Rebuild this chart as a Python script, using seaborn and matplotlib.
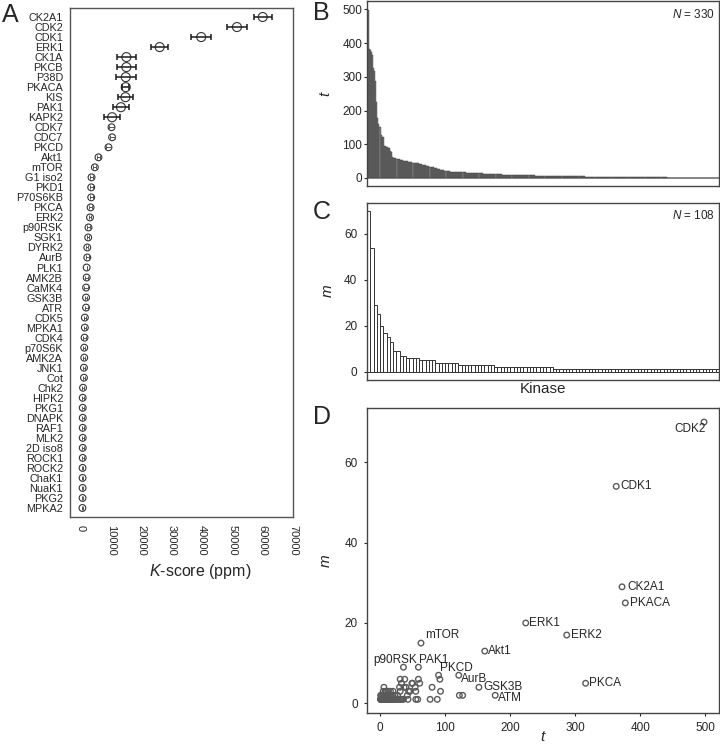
import matplotlib
matplotlib.use("Agg")
import matplotlib.pyplot as plt
import numpy as np
import seaborn as sns

sns.set_style("white")
plt.rcParams["font.family"] = ["Liberation Sans", "DejaVu Sans"]
plt.rcParams["mathtext.fontset"] = "custom"
plt.rcParams["mathtext.it"] = "Liberation Sans:italic"
plt.rcParams["mathtext.rm"] = "Liberation Sans"

# ---- panel A: K-score per kinase ----
kinases = ["CK2A1", "CDK2", "CDK1", "ERK1", "CK1A", "PKCB", "P38D", "PKACA", "KIS",
           "PAK1", "KAPK2", "CDK7", "CDC7", "PKCD", "Akt1", "mTOR", "G1 iso2", "PKD1",
           "P70S6KB", "PKCA", "ERK2", "p90RSK", "SGK1", "DYRK2", "AurB", "PLK1",
           "AMK2B", "CaMK4", "GSK3B", "ATR", "CDK5", "MPKA1", "CDK4", "p70S6K",
           "AMK2A", "JNK1", "Cot", "Chk2", "HIPK2", "PKG1", "DNAPK", "RAF1", "MLK2",
           "2D iso8", "ROCK1", "ROCK2", "ChaK1", "NuaK1", "PKG2", "MPKA2"]
kscore = [60000, 51500, 39700, 26000, 15000, 15000, 14800, 14800, 14700, 13200,
          10300, 10100, 10300, 9100, 5800, 4600, 3500, 3400, 3400, 3200,
          3000, 2500, 2400, 2100, 2100, 1900, 1900, 1700, 1700, 1700,
          1300, 1300, 1200, 1100, 1100, 1000, 1000, 700, 600, 600,
          600, 600, 600, 600, 600, 550, 550, 550, 550, 500]
kscore_err = [3000, 3300, 3300, 2900, 3200, 3200, 3300, 1100, 2500, 2600,
              2600, 800, 800, 700, 500, 500, 500, 500, 500, 500,
              400, 400, 400, 400, 500, 0, 600, 600, 400, 500,
              350, 350, 350, 350, 350, 350, 350, 300, 300, 300,
              300, 300, 300, 300, 300, 300, 300, 300, 300, 300]

# ---- panel B: t per kinase, sorted ----
t_sorted = [
    498, 383, 379, 373, 365, 325, 317, 288, 224, 177, 160, 150, 127, 122, 120,
    96, 94, 92, 91, 89, 88, 80, 76, 63, 60, 59, 58, 57, 56, 55, 54,
    53, 52, 51, 50, 50, 49, 49, 48, 47, 46, 46, 45, 45, 44, 44, 43, 43,
    42, 41, 40, 39, 38, 37, 37, 36, 35, 34, 33, 32, 31, 31, 30,
    29, 28, 27, 26, 25, 24, 23, 22, 22, 21,
    21, 20, 20, 20, 19, 19, 19, 19, 18, 18, 18, 18, 18, 17, 17, 17, 17, 17, 17, 16, 16, 16,
    16, 16, 15, 15, 15, 15, 15, 14, 14, 14, 14, 14, 14, 13, 13,
    13, 13, 13, 12, 12, 12, 12, 12, 12, 11, 11, 11, 11, 11, 11, 11,
    10, 10, 10, 10, 10, 10, 10, 10, 10, 10, 9, 9, 9, 9, 9, 9, 9, 9, 9, 9,
    8, 8, 8, 8, 8, 8, 8, 8, 8, 8, 8,
    7, 7, 7, 7, 7, 7, 7, 7, 7, 7, 7, 7, 7, 7, 7,
    6, 6, 6, 6, 6, 6, 6, 6, 6, 6, 6, 6, 6, 6, 6, 6,
    5, 5, 5, 5, 5, 5, 5, 5, 5, 5, 5, 5, 5, 5, 5, 5,
    4, 4, 4, 4, 4, 4, 4, 4, 4, 4, 4, 4, 4, 4, 4, 4,
    3, 3, 3, 3, 3, 3, 3, 3, 3, 3, 3, 3, 3, 3, 3, 3, 3, 3, 3, 3, 3, 3, 3, 3, 3, 3, 3, 3, 3, 3, 3,
    2, 2, 2, 2, 2, 2, 2, 2, 2, 2, 2, 2, 2, 2, 2, 2, 2, 2, 2, 2, 2, 2, 2, 2, 2, 2, 2, 2, 2, 2,
    1, 1, 1, 1, 1, 1, 1, 1, 1, 1, 1, 1, 1, 1, 1, 1, 1, 1, 1, 1, 1, 1, 1, 1, 1,
    1, 1, 1, 1, 1, 1, 1, 1, 1, 1, 1, 1, 1, 1, 1, 1, 1, 1, 1, 1, 1, 1, 1, 1,
]

# ---- panel C: m per kinase, sorted ----
m_sorted = [
    70, 54, 29, 25, 20, 17, 15, 13, 9, 9, 7, 7,
    6, 6, 6, 6, 5, 5, 5, 5, 5, 4, 4, 4, 4, 4, 4, 4,
    3, 3, 3, 3, 3, 3, 3, 3, 3, 3, 3,
    2, 2, 2, 2, 2, 2, 2, 2, 2, 2, 2, 2, 2, 2, 2, 2, 2, 2,
    1, 1, 1, 1, 1, 1, 1, 1, 1, 1, 1, 1, 1, 1, 1, 1, 1, 1, 1, 1, 1, 1, 1, 1, 1,
    1, 1, 1, 1, 1, 1, 1, 1, 1, 1, 1, 1, 1, 1, 1, 1, 1, 1, 1, 1, 1, 1, 1, 1, 1, 1,
]

# ---- panel D: m vs t ----
label_names = ["CDK2", "CDK1", "CK2A1", "PKACA", "ERK1", "ERK2", "mTOR", "Akt1",
               "PKCA", "p90RSK", "PAK1", "PKCD", "AurB", "GSK3B", "ATM"]
label_t = [498, 363, 372, 377, 224, 287, 63, 161, 316, 36, 59, 90, 121, 152, 177]
label_m = [70, 54, 29, 25, 20, 17, 15, 13, 5, 9, 9, 7, 7, 4, 2]

other_t = [31, 38, 59, 92,
           33, 49, 50, 61,
           6, 30, 37, 40, 54, 80,
           5, 8, 10, 13, 16, 20, 31, 44, 46, 55, 93,
           1, 2, 4, 5, 7, 8, 9, 10, 12, 14, 17, 20, 23, 27, 42, 122, 127,
           1, 1, 1, 2, 2, 2, 3, 3, 3, 4, 4, 4, 5, 5, 5, 6, 6, 6, 7, 7, 8, 8,
           9, 9, 10, 10, 11, 12, 12, 13, 14, 15, 16, 17, 18, 19, 20, 21, 22, 24,
           26, 28, 30, 32, 34, 36, 43, 55, 58, 77, 88]
other_m = [6, 6, 6, 6,
           5, 5, 5, 5,
           4, 4, 4, 4, 4, 4,
           3, 3, 3, 3, 3, 3, 3, 3, 3, 3, 3,
           2, 2, 2, 2, 2, 2, 2, 2, 2, 2, 2, 2, 2, 2, 2, 2, 2,
           1, 1, 1, 1, 1, 1, 1, 1, 1, 1, 1, 1, 1, 1, 1, 1, 1, 1, 1, 1, 1, 1,
           1, 1, 1, 1, 1, 1, 1, 1, 1, 1, 1, 1, 1, 1, 1, 1, 1, 1,
           1, 1, 1, 1, 1, 1, 1, 1, 1, 1, 1]

# label offsets in points (dx, dy, ha)
label_style = {
    "CDK2": (1.5, -5, "right"), "CDK1": (3, 0, "left"), "CK2A1": (3.5, 0, "left"),
    "PKACA": (3.5, 0, "left"), "ERK1": (2.5, 0, "left"), "ERK2": (3, 0, "left"),
    "mTOR": (3, 6, "left"), "Akt1": (2, 0, "left"), "PKCA": (2.5, 0, "left"),
    "p90RSK": (10, 5, "right"), "PAK1": (0.5, 5, "left"), "PKCD": (1, 5, "left"),
    "AurB": (1.5, -2.5, "left"), "GSK3B": (3, 0, "left"), "ATM": (2, -2, "left"),
}

W, H = 720, 744
fig = plt.figure(figsize=(W / 100, H / 100), dpi=100)
spine_col = "#444444"


def px_axes(left, top, right, bottom):
    return fig.add_axes([left / W, 1 - bottom / H, (right - left) / W, (bottom - top) / H])


# ---------------- A ----------------
axA = px_axes(70, 8, 293, 517)
ypos = np.arange(len(kinases))
kscore_arr = np.array(kscore)
err_arr = np.array(kscore_err)
big = err_arr > 1000
sns.scatterplot(x=kscore_arr, y=ypos, size=big, sizes={True: 42, False: 24},
                ax=axA, legend=False, marker="o", fc="white", ec="#333333",
                linewidth=0.8, zorder=2)
axA.errorbar(kscore_arr[big], ypos[big], xerr=err_arr[big], fmt="none",
             ecolor="#1a1a1a", elinewidth=1.1, capsize=2.3, capthick=1.1, zorder=3)
axA.errorbar(kscore_arr[~big], ypos[~big], xerr=err_arr[~big], fmt="none",
             ecolor="#555555", elinewidth=0.7, capsize=1.6, capthick=0.7, zorder=3)
axA.set_ylim(len(kinases) - 1 + 0.9, -0.9)
axA.set_xlim(-3600, 70000)
axA.set_yticks(ypos)
axA.set_yticklabels(kinases, fontsize=7.8)
axA.set_xticks(np.arange(0, 70001, 10000))
axA.set_xticklabels([str(v) for v in range(0, 70001, 10000)], rotation=-90,
                    fontsize=8, va="top", ha="center")
axA.tick_params(axis="y", length=0, pad=5)
axA.tick_params(axis="x", length=0, pad=5.5)
axA.set_xlabel("$K$-score (ppm)", fontsize=11.5)
axA.xaxis.set_label_coords(0.583, -0.088)
axA.set_ylabel("")
for s in axA.spines.values():
    s.set_color("#555555")
    s.set_linewidth(1.0)

# ---------------- B ----------------
axB = px_axes(367, 1, 719, 186)
sns.barplot(x=np.arange(len(t_sorted)), y=t_sorted, ax=axB, width=1.0,
            color="#808080", saturation=1, edgecolor="#3a3a3a", linewidth=0.3)
axB.axhline(0, color="#8a8a8a", lw=1.2, zorder=0.5)
axB.set_xlim(-1.2, len(t_sorted) - 0.5)
axB.set_ylim(-24, 525)
axB.set_xticks([])
axB.set_yticks([0, 100, 200, 300, 400, 500])
axB.tick_params(axis="y", length=2, width=0.8, pad=1.5, labelsize=8.5, left=True)
axB.set_xlabel("")
axB.set_ylabel("$t$", fontsize=11)
axB.yaxis.set_label_coords(-0.097, 0.5)
axB.text(0.989, 0.962, "$N$ = 330", transform=axB.transAxes, ha="right", va="top",
         fontsize=8.5)

# ---------------- C ----------------
axC = px_axes(367, 203, 719, 380)
sns.barplot(x=np.arange(len(m_sorted)), y=m_sorted, ax=axC, width=1.0,
            color="white", saturation=1, edgecolor="#333333", linewidth=0.7)
axC.axhline(0, color="#8a8a8a", lw=1.2, zorder=0.5)
axC.set_xlim(-0.5, len(m_sorted) - 0.5)
axC.set_ylim(-3.6, 73.5)
axC.set_xticks([])
axC.set_yticks([0, 20, 40, 60])
axC.tick_params(axis="y", length=2.5, width=0.8, pad=4.5, labelsize=8.5, left=True)
axC.set_xlabel("Kinase", fontsize=11)
axC.xaxis.set_label_coords(0.5, -0.01)
axC.set_ylabel("$m$", fontsize=11)
axC.yaxis.set_label_coords(-0.09, 0.5)
axC.text(0.989, 0.966, "$N$ = 108", transform=axC.transAxes, ha="right", va="top",
         fontsize=8.5)

# ---------------- D ----------------
axD = px_axes(367, 408, 719, 713)
all_t = np.array(label_t + other_t)
all_m = np.array(label_m + other_m)
sns.scatterplot(x=all_t, y=all_m, ax=axD, marker="o", s=16, fc="none",
                ec="#5a5a5a", linewidth=1.0)
for name, tx, my in zip(label_names, label_t, label_m):
    dx, dy, ha = label_style[name]
    axD.annotate(name, (tx, my), xytext=(dx, dy), textcoords="offset points",
                 ha=ha, va="center", fontsize=8.5)
axD.set_xlim(-20, 521)
axD.set_ylim(-2.4, 73.5)
axD.set_xticks([0, 100, 200, 300, 400, 500])
axD.set_yticks([0, 20, 40, 60])
axD.tick_params(axis="both", length=2.5, width=0.8, pad=4, labelsize=8.5,
                left=True, bottom=True)
axD.set_xlabel("$t$", fontsize=11)
axD.xaxis.set_label_coords(0.5, -0.055)
axD.set_ylabel("$m$", fontsize=11)
axD.yaxis.set_label_coords(-0.097, 0.5)

for ax in (axB, axC, axD):
    for s in ax.spines.values():
        s.set_color(spine_col)
        s.set_linewidth(1.0)

# panel letters
for letter, x, y in [("A", 2, 3), ("B", 313, 1), ("C", 313, 200), ("D", 313, 405)]:
    fig.text(x / W, 1 - y / H, letter, fontsize=18, ha="left", va="top")

fig.savefig("out.png", dpi=100, facecolor="white")
